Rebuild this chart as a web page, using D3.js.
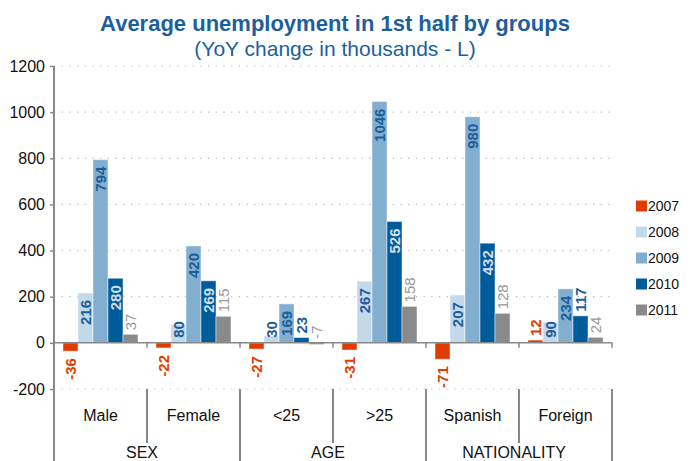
<!DOCTYPE html>
<html><head><meta charset="utf-8">
<script src="https://cdn.jsdelivr.net/npm/d3@7"></script>
<style>
body{margin:0;background:#fff;}
svg{display:block;font-family:"Liberation Sans",Arial,Helvetica,sans-serif;}
</style></head>
<body><svg id="c" width="691" height="461"></svg>
<script>
const categories = ["Male","Female","<25",">25","Spanish","Foreign"];
const groups = [{name:"SEX", members:["Male","Female"]},{name:"AGE", members:["<25",">25"]},{name:"NATIONALITY", members:["Spanish","Foreign"]}];
const seriesNames = ["2007","2008","2009","2010","2011"];
const s2007 = [-36,-22,-27,-31,-71,12];
const s2008 = [216,80,30,267,207,90];
const s2009 = [794,420,169,1046,980,234];
const s2010 = [280,269,23,526,432,117];
const s2011 = [37,115,-7,158,128,24];
const yTicks = [-200,0,200,400,600,800,1000,1200];
const titleText = "Average unemployment in 1st half by groups";
const subtitleText = "(YoY change in thousands - L)";

const seriesValues = [s2007,s2008,s2009,s2010,s2011];
const colors = {"2007":"#e03c00","2008":"#c3d8e9","2009":"#82aed0","2010":"#005b9a","2011":"#8a8a8a"};
const fmt = d => String(d);

const svg = d3.select("#c");
const W = 691, H = 461;
const m = {left:54, right:79, top:66, bottom:72};
const x0 = d3.scaleBand().domain(categories).range([m.left, W - m.right]).padding(0);
const x1 = d3.scaleBand().domain(seriesNames).range([0, x0.bandwidth()]).paddingInner(0).paddingOuter(0.6);
const y = d3.scaleLinear().domain([-200,1200]).range([H - m.bottom, m.top]);

// title
svg.append("text").attr("x",335).attr("y",31).attr("text-anchor","middle")
  .attr("font-size",22).attr("font-weight","bold").attr("fill","#1d5f9c").text(titleText);
svg.append("text").attr("x",335).attr("y",56).attr("text-anchor","middle")
  .attr("font-size",21).attr("fill","#1d5f9c").text(subtitleText);

// gridlines
svg.append("g").selectAll("line").data(yTicks.filter(d=>d!==0)).join("line")
  .attr("x1",m.left).attr("x2",W-m.right).attr("y1",d=>y(d)).attr("y2",d=>y(d))
  .attr("stroke","#bbb").attr("stroke-width",1.2).attr("stroke-dasharray","1.2,6.5");

// y axis
const yAxis = d3.axisLeft(y).tickValues(yTicks).tickSize(4).tickPadding(5).tickFormat(fmt);
const ga = svg.append("g").attr("transform",`translate(${m.left},0)`).call(yAxis);
ga.select(".domain").remove();
ga.selectAll("line").attr("stroke","#888").attr("stroke-width",1.5);
ga.selectAll("text").attr("font-size",16).attr("fill","#111").attr("font-family","Liberation Sans, Arial, sans-serif");
svg.append("line").attr("x1",m.left).attr("x2",m.left).attr("y1",m.top).attr("y2",H)
  .attr("stroke","#888").attr("stroke-width",2);

// bars
const data = [];
categories.forEach((c,i)=>{
  seriesNames.forEach((s,j)=>{ data.push({cat:c, ser:s, v:seriesValues[j][i]}); });
});
const gb = svg.append("g");
gb.selectAll("rect").data(data).join("rect")
  .attr("x",d=>x0(d.cat)+x1(d.ser))
  .attr("width",x1.bandwidth())
  .attr("y",d=>y(Math.max(0,d.v)))
  .attr("height",d=>Math.abs(y(d.v)-y(0)))
  .attr("fill",d=>colors[d.ser])
  .attr("stroke","#ffffff").attr("stroke-opacity",0.45).attr("stroke-width",1);

// zero line
svg.append("line").attr("x1",m.left).attr("x2",W-m.right).attr("y1",y(0)).attr("y2",y(0))
  .attr("stroke","#888").attr("stroke-width",1.5);
svg.append("g").selectAll("line").data(categories).join("line")
  .attr("x1",d=>x0(d)+x0.bandwidth()).attr("x2",d=>x0(d)+x0.bandwidth())
  .attr("y1",y(0)).attr("y2",y(0)+5).attr("stroke","#888").attr("stroke-width",1.5);

// labels
const zero = y(0);
const gl = svg.append("g");
data.forEach(d=>{
  const cx = x0(d.cat)+x1(d.ser)+x1.bandwidth()/2;
  const bold = d.ser !== "2011";
  const t = gl.append("text").text(fmt(d.v))
    .attr("font-size",15).attr("font-weight",bold?"bold":"normal")
    .attr("dominant-baseline","central");
  const len = t.node().getComputedTextLength();
  const top = y(Math.max(0,d.v)), bot = y(Math.min(0,d.v));
  let startY, fill;
  if (d.ser === "2007") {
    fill = colors["2007"];
    if (d.v < 0) startY = bot + 7 + len; else startY = top - 4;
  } else if (d.ser === "2011") {
    fill = "#999";
    startY = Math.min(top, zero) - 4;
  } else if (d.ser === "2010") {
    if (zero - top > len + 12) { startY = top + 7 + len; fill = "#d3dee9"; }
    else { startY = top - 4; fill = "#1b5e9b"; }
  } else {
    fill = "#1b5e9b";
    startY = Math.min(top + 7 + len, zero - 5);
  }
  t.attr("fill",fill).attr("text-anchor","start")
   .attr("transform",`translate(${cx},${startY}) rotate(-90)`);
});

// category axis
const baseY = y(-200);
svg.append("g").selectAll("text").data(categories).join("text")
  .attr("x",d=>x0(d)+x0.bandwidth()/2).attr("y",421).attr("text-anchor","middle")
  .attr("font-size",16).attr("fill","#111").text(d=>d);
groups.forEach(g=>{
  const gx0 = x0(g.members[0]);
  const gx1 = x0(g.members[g.members.length-1]) + x0.bandwidth();
  g.members.slice(0,-1).forEach(mm=>{
    const sx = x0(mm)+x0.bandwidth();
    svg.append("line").attr("x1",sx).attr("x2",sx).attr("y1",baseY).attr("y2",443)
      .attr("stroke","#888").attr("stroke-width",2);
  });
  svg.append("line").attr("x1",gx1).attr("x2",gx1).attr("y1",baseY).attr("y2",H)
    .attr("stroke","#888").attr("stroke-width",2);
  svg.append("text").attr("x",(gx0+gx1)/2 - 5).attr("y",458).attr("text-anchor","middle")
    .attr("font-size",16).attr("fill","#111").text(g.name);
});

// legend
const lg = svg.append("g");
seriesNames.forEach((s,i)=>{
  const ly = 206 + i*26;
  lg.append("rect").attr("x",636).attr("y",ly-5.5).attr("width",11).attr("height",11).attr("fill",colors[s]);
  lg.append("text").attr("x",648).attr("y",ly).attr("dominant-baseline","central")
    .attr("font-size",14).attr("fill","#111").text(s);
});
</script></body></html>
